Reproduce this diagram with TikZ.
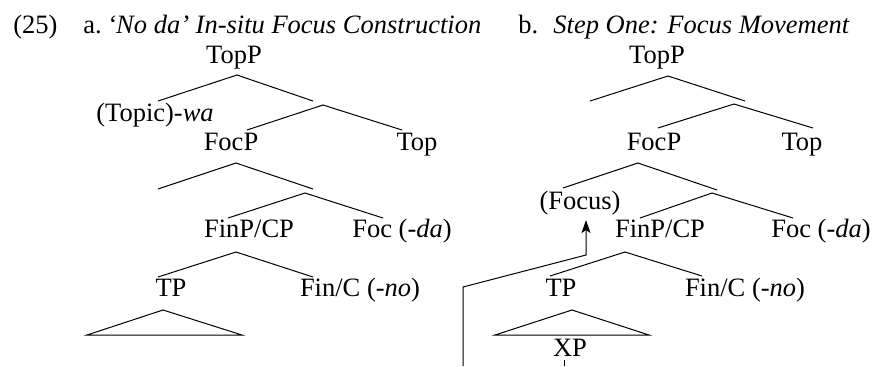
\documentclass[tikz,border=0pt]{standalone}
\usepackage{fontspec}
\setmainfont{Liberation Serif}
\usetikzlibrary{arrows.meta}
\begin{document}
\begin{tikzpicture}[x=0.5pt,y=-0.5pt,
  lbl/.style={inner sep=0pt,anchor=base,font=\fontsize{13.25}{16}\selectfont},
  ttl/.style={lbl,anchor=base west},
  branch/.style={line width=0.5pt},
  move/.style={line width=0.5pt,-{Stealth[length=6.5pt,width=4.5pt,inset=1.5pt]}}]
\useasboundingbox (0,0) rectangle (874,366);

% heading
\node[ttl] (num)   at (13,33)  {(25)};
\node[ttl] (la)    at (83,33)  {a.};
\node[ttl] (ta)    at (107,33) {\textit{‘No da’ In-situ Focus Construction}};
\node[ttl] (lb)    at (518,33) {b.};
\node[ttl] (tb)    at (553,33) {\textit{Step One: Focus Movement}};

% ---------- tree a ----------
\node[lbl] (aTopP)  at (234,63)  {TopP};
\node[lbl] (aTopic) at (155,121) {(Topic)-\textit{wa}};
\node[lbl] (aFocP)  at (231,150) {FocP};
\node[lbl] (aTop)   at (417,150) {Top};
\node[lbl] (aFinP)  at (249,237) {FinP/CP};
\node[lbl] (aFoc)   at (402,237) {Foc (\textit{-da})};
\node[lbl] (aTP)    at (171,296) {TP};
\node[lbl] (aFin)   at (360,296) {Fin/C (\textit{-no})};

\coordinate (a1) at (237,75);  \coordinate (a1l) at (158,101); \coordinate (a1r) at (313,101);
\coordinate (a2) at (323,105); \coordinate (a2l) at (247,130); \coordinate (a2r) at (402,130);
\coordinate (a3) at (236,163); \coordinate (a3l) at (158,189); \coordinate (a3r) at (313,189);
\coordinate (a4) at (305,193); \coordinate (a4l) at (228,218); \coordinate (a4r) at (383,218);
\coordinate (a5) at (236,252); \coordinate (a5l) at (158,277); \coordinate (a5r) at (313,277);
\coordinate (at) at (163,310); \coordinate (atl) at (87,335);  \coordinate (atr) at (242,335);

\draw[branch] (a1l) -- (a1) -- (a1r);
\draw[branch] (a2l) -- (a2) -- (a2r);
\draw[branch] (a3l) -- (a3) -- (a3r);
\draw[branch] (a4l) -- (a4) -- (a4r);
\draw[branch] (a5l) -- (a5) -- (a5r);
\draw[branch] (atl) -- (at) -- (atr) -- cycle;

% ---------- tree b ----------
\node[lbl] (bTopP)  at (657,63)  {TopP};
\node[lbl] (bFocP)  at (654,150) {FocP};
\node[lbl] (bTop)   at (802,150) {Top};
\node[lbl] (bFocus) at (580,209) {(Focus)};
\node[lbl] (bFinP)  at (660,237) {FinP/CP};
\node[lbl] (bFoc)   at (821,237) {Foc (\textit{-da})};
\node[lbl] (bTP)    at (561,296) {TP};
\node[lbl] (bFin)   at (745,296) {Fin/C (\textit{-no})};
\node[lbl] (bXP)    at (570,356) {XP};

\coordinate (b1) at (668,76);  \coordinate (b1l) at (590,101); \coordinate (b1r) at (745,101);
\coordinate (b2) at (734,104); \coordinate (b2l) at (658,128); \coordinate (b2r) at (813,128);
\coordinate (b3) at (638,163); \coordinate (b3l) at (563,188); \coordinate (b3r) at (717,190);
\coordinate (b4) at (712,193); \coordinate (b4l) at (640,218); \coordinate (b4r) at (793,218);
\coordinate (b5) at (625,252); \coordinate (b5l) at (550,276); \coordinate (b5r) at (702,276);
\coordinate (bt) at (572,310); \coordinate (btl) at (495,335); \coordinate (btr) at (649,335);

\draw[branch] (b1l) -- (b1) -- (b1r);
\draw[branch] (b2l) -- (b2) -- (b2r);
\draw[branch] (b3l) -- (b3) -- (b3r);
\draw[branch] (b4l) -- (b4) -- (b4r);
\draw[branch] (b5l) -- (b5) -- (b5r);
\draw[branch] (btl) -- (bt) -- (btr) -- cycle;

% trace line under XP
\coordinate (xpTick) at (564,360);
\coordinate (xpEnd)  at (564,366);
\draw[branch] (xpTick) -- (xpEnd);

% focus movement path
\coordinate (mv0) at (463,366);
\coordinate (mv1) at (463,287);
\coordinate (mv2) at (586,255);
\draw[move,shorten >=2.5pt] (mv0) -- (mv1) -- (mv2) -- (mv2 |- bFocus.south);
\end{tikzpicture}
\end{document}
